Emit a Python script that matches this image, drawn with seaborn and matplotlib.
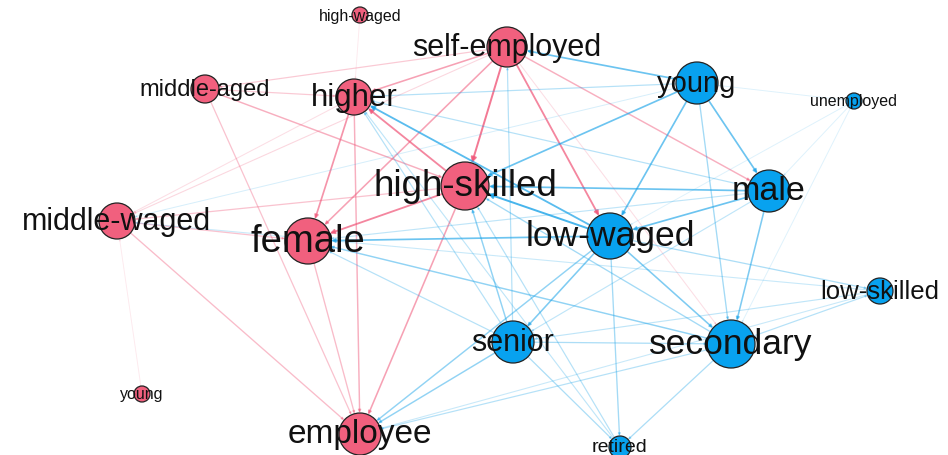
import numpy as np
import pandas as pd
import matplotlib
matplotlib.use("Agg")
import matplotlib.pyplot as plt
import seaborn as sns
from matplotlib.patches import FancyArrowPatch

# Nodes (layout position in pixels, radius in pixels, label size in pt)
names = ["high-waged", "self-employed", "middle-aged", "higher", "high-skilled",
         "middle-waged", "female", "young ", "employee",
         "young", "unemployed", "male", "low-waged", "low-skilled",
         "senior", "secondary", "retired"]
groups = ["f"] * 9 + ["m"] * 8
node_x = [360, 507, 205, 354, 465, 117, 308, 142, 360,
          697, 854, 769, 610, 880, 513, 731, 620]
node_y = [16, 48, 90, 98, 187, 222, 242, 395, 435,
          84, 102, 192, 237, 292, 343, 345, 448]
radius = [8, 20, 14, 18, 24, 18, 23, 8, 21,
          21, 8, 21, 23, 13, 21, 24, 11]
label_size = [11.5, 22, 17, 22.5, 26.5, 22, 27.5, 11.5, 24,
              21, 11.5, 24.5, 25.5, 18.5, 22, 25.5, 14]

# Edges: source, target, strength
edge_src = ["self-employed", "self-employed", "self-employed", "self-employed", "self-employed",
            "self-employed", "self-employed", "self-employed", "higher", "higher", "higher",
            "high-skilled", "high-skilled", "high-skilled", "high-skilled",
            "middle-aged", "middle-aged", "middle-aged", "middle-waged", "middle-waged",
            "female", "high-waged", "young ",
            "young", "young", "young", "young", "young", "young", "young",
            "male", "male", "male", "male", "male", "male",
            "low-waged", "low-waged", "low-waged", "low-waged", "low-waged", "low-waged",
            "low-waged", "low-waged",
            "senior", "senior", "senior", "senior", "senior", "senior", "senior",
            "secondary", "secondary", "secondary", "secondary", "secondary",
            "low-skilled", "low-skilled", "low-skilled",
            "unemployed", "unemployed", "unemployed", "unemployed",
            "retired", "retired"]
edge_dst = ["high-skilled", "higher", "middle-aged", "female", "low-waged",
            "male", "secondary", "middle-waged", "female", "employee", "middle-waged",
            "higher", "female", "employee", "middle-waged",
            "high-skilled", "employee", "higher", "female", "employee",
            "employee", "higher", "middle-waged",
            "self-employed", "high-skilled", "low-waged", "male", "secondary", "higher", "middle-waged",
            "high-skilled", "low-waged", "secondary", "senior", "higher", "female",
            "high-skilled", "higher", "female", "senior", "secondary", "retired",
            "employee", "low-skilled",
            "high-skilled", "secondary", "employee", "retired", "female", "higher", "self-employed",
            "employee", "retired", "low-skilled", "high-skilled", "female",
            "middle-waged", "senior", "employee",
            "low-waged", "male", "secondary", "young",
            "high-skilled", "higher"]
edge_w = [0.9, 0.6, 0.3, 0.6, 0.8,
          0.5, 0.15, 0.2, 0.7, 0.5, 0.15,
          0.8, 0.8, 0.6, 0.35,
          0.5, 0.35, 0.3, 0.35, 0.4,
          0.4, 0.06, 0.06,
          0.7, 0.7, 0.7, 0.7, 0.4, 0.3, 0.12,
          0.7, 0.7, 0.6, 0.25, 0.3, 0.25,
          0.9, 0.8, 0.7, 0.6, 0.6, 0.4,
          0.5, 0.35,
          0.5, 0.35, 0.5, 0.35, 0.3, 0.3, 0.3,
          0.3, 0.35, 0.3, 0.4, 0.5,
          0.2, 0.25, 0.2,
          0.08, 0.08, 0.08, 0.08,
          0.3, 0.25]

palette = {"f": "#F1607E", "m": "#08A2EF"}
edge_palette = {"f": "#F0587A", "m": "#1AA3E8"}

nodes = pd.DataFrame({"name": names, "group": groups, "x": node_x, "y": node_y,
                      "r": radius, "fs": label_size})
edges = pd.DataFrame({"src": edge_src, "dst": edge_dst, "w": edge_w})
pos = nodes.set_index("name")

sns.set_theme(style="white")
plt.rcParams["font.family"] = ["Liberation Sans", "DejaVu Sans"]

fig = plt.figure(figsize=(9.48, 4.56), dpi=100)
ax = fig.add_axes([0, 0, 1, 1])

px2pt = 72 / 100
for _, e in edges.iterrows():
    s, t = pos.loc[e.src], pos.loc[e.dst]
    arr = FancyArrowPatch((s.x, s.y), (t.x, t.y),
                          arrowstyle="-|>", mutation_scale=2 + 7 * e.w ** 2,
                          shrinkA=0, shrinkB=t.r * px2pt,
                          color=edge_palette[s.group], alpha=min(1.0, 0.08 + e.w * 0.8),
                          lw=0.6 + 0.9 * e.w, zorder=1)
    ax.add_patch(arr)

areas = (2 * nodes["r"] * px2pt) ** 2
sns.scatterplot(data=nodes, x="x", y="y", hue="group", palette=palette,
                s=areas, edgecolor="#222222", linewidth=0.9, legend=False,
                ax=ax, zorder=3)
ax.set_xlim(0, 948)
ax.set_ylim(456, 0)
ax.axis("off")

for _, n in nodes.iterrows():
    ax.text(n.x, n.y, n["name"].strip(), ha="center", va="center",
            fontsize=n.fs, color="#111111", zorder=4)

fig.savefig("out.png", dpi=100)
